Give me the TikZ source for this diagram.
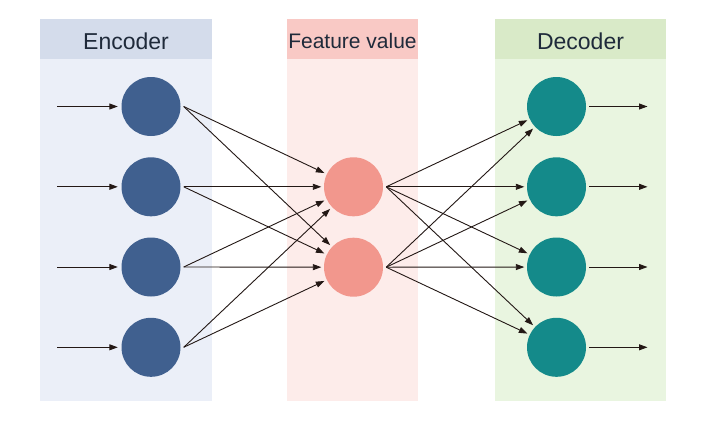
\documentclass[tikz,border=0pt]{standalone}
\usepackage{fontspec}
\setmainfont{Liberation Sans}
\usetikzlibrary{arrows.meta}
\definecolor{txt}{HTML}{1F2A3A}
\definecolor{encH}{HTML}{D4DCEB}
\definecolor{encB}{HTML}{EBEFF8}
\definecolor{feaH}{HTML}{F9C9C5}
\definecolor{feaB}{HTML}{FDECEA}
\definecolor{decH}{HTML}{D9EAC8}
\definecolor{decB}{HTML}{E9F5E0}
\definecolor{encC}{HTML}{40608F}
\definecolor{feaC}{HTML}{F2978D}
\definecolor{decC}{HTML}{148A8A}
\definecolor{arrc}{HTML}{231815}
\tikzset{
  neuron/.style={circle, minimum size=59pt, inner sep=0pt, draw=none},
  arr/.style={draw=arrc, line width=0.9pt, -{Triangle[length=8.5pt,width=6pt]}, shorten >=2.5pt},
  headtxt/.style={text=txt, font=\fontsize{23}{26}\selectfont, inner sep=0pt}
}
\begin{document}
\begin{tikzpicture}[x=1pt,y=-1pt]
\useasboundingbox (0,0) rectangle (720,424);
\fill[white] (0,0) rectangle (720,424);
% panels
\fill[encB] (40,59) rectangle (212,401);
\fill[encH] (40,19) rectangle (212,59);
\fill[feaB] (287,59) rectangle (418,401);
\fill[feaH] (287,19) rectangle (418,59);
\fill[decB] (495,59) rectangle (666,401);
\fill[decH] (495,19) rectangle (666,59);
\node[headtxt] (hE) at (126,41) {Encoder};
\node[headtxt, font=\fontsize{21}{24}\selectfont] (hF) at (352.5,41) {Feature value};
\node[headtxt] (hD) at (580.5,41) {Decoder};
% neurons
\foreach \i/\y in {1/106.5,2/186.8,3/267,4/347.3}{
  \node[neuron, fill=encC] (e\i) at (151,\y) {};
  \node[neuron, fill=decC] (d\i) at (556.5,\y) {};
  \coordinate (in\i) at (57,\y);
  \coordinate (out\i) at (650,\y);
}
\node[neuron, fill=feaC] (f1) at (353.5,186.8) {};
\node[neuron, fill=feaC] (f2) at (353.5,267.2) {};
% connectors
\foreach \i in {1,...,4}{
  \draw[arr, shorten >=3.5pt] (in\i) -- (e\i);
  \draw[arr, shorten <=3pt] (d\i) -- (out\i);
  \foreach \j in {1,2}{
    \draw[arr] ([xshift=3pt]e\i.east) -- (f\j);
    \draw[arr] ([xshift=3pt]f\j.east) -- (d\i);
  }
}
\end{tikzpicture}
\end{document}
